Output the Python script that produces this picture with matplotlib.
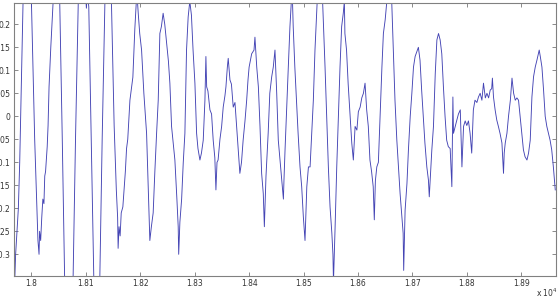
import matplotlib
matplotlib.use("Agg")
import matplotlib.pyplot as plt
import numpy as np

# sample index vs. signal amplitude
sample = [
    17967.5, 17971, 17973, 17976, 17978.5, 17984.6, 17991.4, 18000, 18006, 18010,
    18012, 18014, 18015, 18017, 18019, 18021, 18023, 18024.5, 18026, 18029,
    18030.6, 18032.4, 18035.6, 18040, 18046, 18052, 18056.7, 18061, 18069, 18076.6,
    18081, 18086, 18092.6, 18098, 18101, 18102.7, 18105.4, 18110, 18114.6, 18120,
    18125.7, 18130, 18135, 18141, 18147, 18152, 18156, 18158.4, 18159.3, 18161,
    18163, 18165, 18168, 18170.7, 18172.6, 18174.8, 18177, 18181, 18183.6, 18186.4,
    18190, 18193.7, 18196.5, 18199, 18202.4, 18206.6, 18211.6, 18214.5, 18217.6, 18220.4,
    18223.7, 18226.8, 18230, 18233, 18236, 18238.8, 18242, 18245, 18248.3, 18251.7,
    18254.4, 18257.5, 18263.6, 18267.3, 18269.7, 18270.6, 18272.8, 18276, 18279, 18282,
    18285, 18288, 18291, 18294, 18297, 18300.4, 18303.5, 18306, 18309.6, 18312.4,
    18315.7, 18318.8, 18320.6, 18322, 18324.3, 18328, 18331, 18334, 18337, 18339,
    18341, 18343, 18346.4, 18349.5, 18352.4, 18355.6, 18357.4, 18360, 18361.6, 18364.8,
    18367.5, 18370.8, 18374, 18377, 18380, 18383, 18386, 18389, 18392.4, 18395.5,
    18398, 18400, 18404.7, 18409, 18410.7, 18414, 18417, 18420, 18423, 18426,
    18428, 18431, 18435, 18438, 18441.5, 18444.4, 18447.5, 18450.7, 18453.6, 18456.7,
    18460, 18463, 18464, 18466, 18469, 18472, 18475, 18479, 18481, 18484,
    18487, 18490, 18493.5, 18496.6, 18499.6, 18502.7, 18506, 18509, 18512, 18515,
    18518, 18521, 18525, 18530, 18535, 18539.5, 18542.6, 18545.6, 18548.7, 18552,
    18554, 18555, 18558, 18561, 18564, 18567, 18570, 18573, 18575, 18576,
    18579, 18582, 18585.5, 18588.6, 18591.5, 18594.7, 18598, 18600.7, 18604, 18607,
    18610, 18613, 18616, 18619, 18622, 18625, 18628, 18630, 18632, 18634.6,
    18637.5, 18640.6, 18644, 18646.7, 18650, 18653, 18657, 18662, 18665, 18668,
    18671.4, 18674.3, 18677.4, 18680.6, 18683, 18684, 18686.6, 18690, 18692.7, 18696,
    18699, 18702, 18705, 18708, 18711, 18714, 18717, 18720, 18723, 18726.5,
    18729.5, 18731, 18733.5, 18735.7, 18738.7, 18742, 18745, 18748, 18751, 18754,
    18757, 18760, 18763, 18766, 18769.4, 18772.5, 18774.4, 18775.5, 18778.6, 18781.7,
    18784.6, 18788, 18791, 18794, 18797, 18800, 18803, 18806, 18809, 18812,
    18815, 18818.5, 18821.4, 18824.5, 18827.7, 18830.6, 18834, 18837, 18840, 18843,
    18845.7, 18847, 18849, 18852, 18855, 18858, 18861, 18864.5, 18867.4, 18868.7,
    18870.6, 18873.7, 18876.6, 18880, 18883, 18886, 18889, 18892, 18895, 18898,
    18901, 18904, 18907, 18910.5, 18913.4, 18916.5, 18919.6, 18922.6, 18925.7, 18928.8,
    18933, 18935, 18938, 18941, 18944, 18947, 18950, 18953, 18956, 18959,
    18962.5,
]
amplitude = [
    -0.42, -0.30, -0.26, -0.20, -0.10, 0.25, 0.48, 0.25, -0.05, -0.20,
    -0.27, -0.30, -0.25, -0.27, -0.22, -0.18, -0.19, -0.13, -0.12, -0.066,
    -0.02, 0.064, 0.15, 0.25, 0.46, 0.25, -0.05, -0.35, -0.58, -0.35,
    -0.05, 0.25, 0.42, 0.30, 0.235, 0.27, 0.238, -0.05, -0.35, -0.55,
    -0.35, -0.05, 0.25, 0.45, 0.25, -0.02, -0.16, -0.22, -0.287, -0.24,
    -0.26, -0.21, -0.197, -0.15, -0.12, -0.07, -0.05, 0.035, 0.06, 0.085,
    0.19, 0.27, 0.22, 0.18, 0.144, 0.05, -0.037, -0.153, -0.27, -0.24,
    -0.21, -0.12, -0.037, 0.035, 0.18, 0.195, 0.224, 0.20, 0.16, 0.12,
    0.072, -0.022, -0.095, -0.18, -0.24, -0.30, -0.23, -0.18, -0.10, -0.037,
    0.144, 0.216, 0.25, 0.22, 0.144, 0.072, -0.037, -0.07, -0.095, -0.08,
    -0.052, 0.035, 0.13, 0.064, 0.055, 0.014, 0.005, -0.052, -0.09, -0.16,
    -0.10, -0.095, -0.05, -0.022, 0.02, 0.045, 0.064, 0.107, 0.126, 0.079,
    0.07, 0.02, 0.03, -0.022, -0.073, -0.124, -0.10, -0.052, -0.01, 0.035,
    0.08, 0.107, 0.136, 0.144, 0.172, 0.107, 0.064, -0.022, -0.124, -0.168,
    -0.24, -0.13, -0.037, 0.05, 0.086, 0.107, 0.144, 0.05, -0.052, -0.095,
    -0.139, -0.18, -0.14, -0.073, 0.02, 0.107, 0.195, 0.28, 0.195, 0.107,
    0.035, -0.037, -0.11, -0.153, -0.218, -0.27, -0.153, -0.11, -0.11, -0.037,
    0.035, 0.144, 0.25, 0.34, 0.25, 0.107, 0.0, -0.11, -0.197, -0.254,
    -0.30, -0.36, -0.24, -0.11, 0.0, 0.107, 0.195, 0.224, 0.25, 0.18,
    0.144, 0.07, 0.0, -0.058, -0.095, -0.022, -0.03, 0.01, 0.02, 0.04,
    0.05, 0.072, 0.014, -0.022, -0.095, -0.12, -0.153, -0.225, -0.14, -0.11,
    -0.10, 0.0, 0.107, 0.18, 0.21, 0.25, 0.30, 0.25, 0.144, 0.035,
    -0.052, -0.11, -0.168, -0.218, -0.254, -0.335, -0.204, -0.146, -0.073, 0.0,
    0.05, 0.107, 0.13, 0.14, 0.15, 0.122, 0.057, 0.0, -0.058, -0.11,
    -0.139, -0.175, -0.12, -0.073, -0.022, 0.093, 0.166, 0.18, 0.166, 0.136,
    0.064, 0.0, -0.052, -0.066, -0.07, -0.153, 0.042, -0.037, -0.022, -0.008,
    0.005, 0.014, -0.11, -0.022, -0.01, -0.02, -0.01, -0.037, -0.08, 0.014,
    0.035, 0.03, 0.042, 0.05, 0.035, 0.072, 0.04, 0.05, 0.04, 0.057,
    0.06, 0.083, 0.042, 0.014, -0.008, -0.022, -0.037, -0.058, -0.124, -0.08,
    -0.058, -0.037, 0.0, 0.035, 0.083, 0.05, 0.035, 0.04, 0.035, 0.0,
    -0.037, -0.073, -0.088, -0.095, -0.08, -0.052, 0.042, 0.086, 0.107, 0.122,
    0.144, 0.13, 0.107, 0.057, 0.0, -0.022, -0.037, -0.052, -0.073, -0.11,
    -0.16,
]

x_ticks = [18000, 18100, 18200, 18300, 18400, 18500, 18600, 18700, 18800, 18900]
x_labels = ["1.8", "1.81", "1.82", "1.83", "1.84", "1.85", "1.86", "1.87", "1.88", "1.89"]
y_ticks = [-0.3, -0.25, -0.2, -0.15, -0.1, -0.05, 0, 0.05, 0.1, 0.15, 0.2]
y_labels = ["-0.3", "-0.25", "-0.2", "-0.15", "-0.1", "-0.05", "0", "0.05", "0.1", "0.15", "0.2"]

fig = plt.figure(figsize=(5.6, 3.0), dpi=100)
ax = fig.add_axes([0.025, 0.081, 0.968, 0.909])

ax.plot(sample, amplitude, color="#4444b4", linewidth=0.65)

ax.set_xlim(17968, 18964)
ax.set_ylim(-0.3465, 0.2463)
ax.set_xticks(x_ticks)
ax.set_xticklabels(x_labels)
ax.set_yticks(y_ticks)
ax.set_yticklabels(y_labels)
ax.tick_params(direction="in", length=3, width=0.6, colors="#777777",
               labelcolor="#333333", labelsize=5.5, top=True, right=True, pad=2.5)
for spine in ax.spines.values():
    spine.set_color("#808080")
    spine.set_linewidth(0.8)

fig.text(0.977, 0.023, r"x 10$^4$", ha="center", va="center", fontsize=5.5, color="#333333")

fig.savefig("out.png", dpi=100)
plt.close(fig)
